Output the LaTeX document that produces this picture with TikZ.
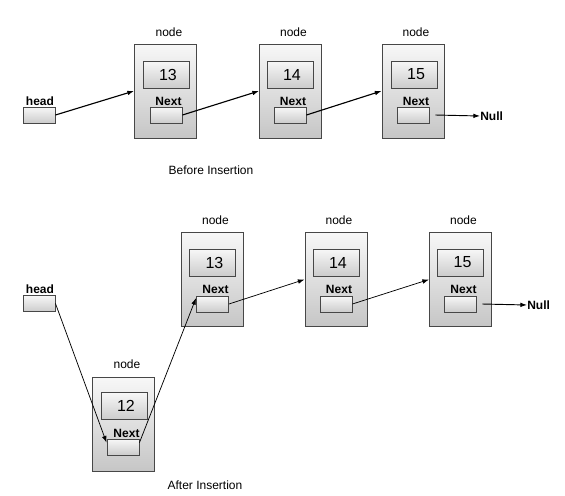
\documentclass[tikz,border=0pt]{standalone}
\usepackage{fontspec}
\setmainfont{Liberation Sans}
\usetikzlibrary{arrows.meta}
\begin{document}
\begin{tikzpicture}[x=0.75pt,y=-0.75pt,
  outerbox/.style={rectangle,draw=black!72,line width=0.7pt,top color=gray!6,bottom color=gray!45,minimum width=46.5pt,minimum height=70.5pt,inner sep=0pt},
  valbox/.style={rectangle,draw=black!72,line width=0.7pt,top color=gray!6,bottom color=gray!40,minimum width=34.5pt,minimum height=20.25pt,inner sep=0pt,font=\fontsize{12pt}{14pt}\selectfont},
  ptrbox/.style={rectangle,draw=black!72,line width=0.7pt,top color=gray!6,bottom color=gray!40,minimum width=24pt,minimum height=12pt,inner sep=0pt},
  lbl/.style={inner sep=0pt,font=\fontsize{9pt}{11pt}\selectfont},
  blbl/.style={inner sep=0pt,font=\fontsize{9pt}{11pt}\selectfont\bfseries},
  thickarrow/.style={line width=0.85pt,-{Latex[length=5pt,width=3.5pt]}},
  thinarrow/.style={line width=0.55pt,-{Latex[length=5pt,width=3.5pt]}}
]
\useasboundingbox[fill=white] (0,0) rectangle (565,496);

% ---------- Before insertion ----------
\node[outerbox] (A1) at (165.5,91) {};
\node[valbox] (A1v) at (166,74.5) {\hspace{3pt}13};
\node[ptrbox] (A1n) at (166,115) {};
\node[lbl] (A1t) at (169,32) {node};
\node[blbl] (A1x) at (168.5,101) {Next};

\node[outerbox] (A2) at (290.5,91) {};
\node[valbox] (A2v) at (290,74.5) {\hspace{3pt}14};
\node[ptrbox] (A2n) at (290,115) {};
\node[lbl] (A2t) at (293.5,32) {node};
\node[blbl] (A2x) at (293,101) {Next};

\node[outerbox] (A3) at (413,91) {};
\node[valbox] (A3v) at (414,74.5) {\hspace{3pt}15};
\node[ptrbox] (A3n) at (413.5,115) {};
\node[lbl] (A3t) at (416,32) {node};
\node[blbl] (A3x) at (416,101) {Next};

\node[ptrbox] (Ah) at (39,115) {};
\node[blbl] (Aht) at (40,101) {head};
\node[blbl,anchor=west] (Anull) at (480,116) {Null};

\node[lbl] (Acap) at (211,170) {Before Insertion};

\draw[thickarrow] (Ah.east) -- (A1.west);
\draw[thickarrow] (A1n.east) -- (A2.west);
\draw[thickarrow] (A2n.east) -- (A3.west);
\draw[line width=0.7pt,-{Latex[length=5pt,width=3.5pt]}] ([xshift=4pt]A3n.east) -- (Anull.west);

% ---------- After insertion ----------
\node[outerbox] (B1) at (212.5,279.5) {};
\node[valbox] (B1v) at (212.5,262.5) {\hspace{3pt}13};
\node[ptrbox] (B1n) at (212.5,304) {};
\node[lbl] (B1t) at (215.5,220) {node};
\node[blbl] (B1x) at (215.5,289) {Next};

\node[outerbox] (B2) at (336,279.5) {};
\node[valbox] (B2v) at (336,262.5) {\hspace{3pt}14};
\node[ptrbox] (B2n) at (336,304) {};
\node[lbl] (B2t) at (339,220) {node};
\node[blbl] (B2x) at (339,289) {Next};

\node[outerbox] (B3) at (460.5,279.5) {};
\node[valbox] (B3v) at (460.5,262.5) {\hspace{3pt}15};
\node[ptrbox] (B3n) at (460.5,304) {};
\node[lbl] (B3t) at (463.5,220) {node};
\node[blbl] (B3x) at (463.5,289) {Next};

\node[outerbox] (B0) at (123,424.5) {};
\node[valbox] (B0v) at (124,406) {\hspace{3pt}12};
\node[ptrbox] (B0n) at (123,447) {};
\node[lbl] (B0t) at (127,364) {node};
\node[blbl] (B0x) at (126.5,433) {Next};

\node[ptrbox] (Bh) at (39,303.5) {};
\node[blbl] (Bht) at (40,289) {head};
\node[blbl,anchor=west] (Bnull) at (527,305) {Null};

\node[lbl] (Bcap) at (205,485) {After Insertion};

\draw[thinarrow] (Bh.east) -- (B0n.165);
\draw[thinarrow] (B0n.15) -- (B1n.160);
\draw[thinarrow] (B1n.east) -- (B2.west);
\draw[thinarrow] (B2n.east) -- (B3.west);
\draw[line width=0.7pt,-{Latex[length=5pt,width=3.5pt]}] ([xshift=4pt]B3n.east) -- (Bnull.west);
\end{tikzpicture}
\end{document}
